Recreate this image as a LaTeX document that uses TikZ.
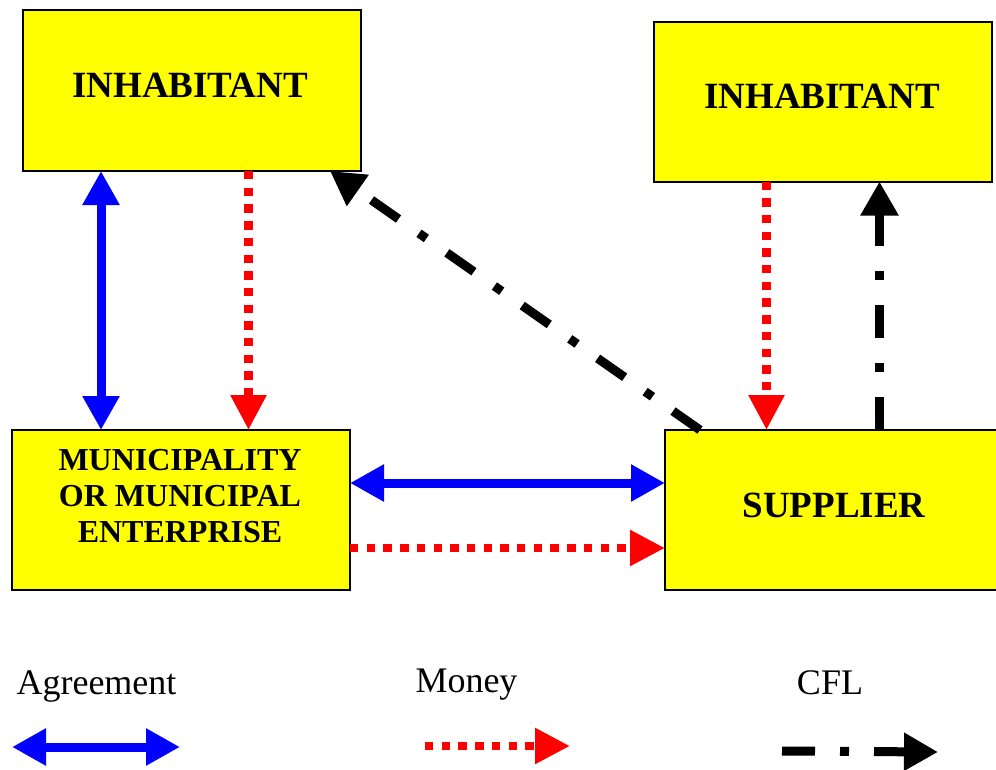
\documentclass[tikz,border=0pt]{standalone}
\usepackage{fontspec}
\setmainfont{Liberation Serif}
\usetikzlibrary{arrows.meta}
\definecolor{boxyellow}{RGB}{255,255,0}
\definecolor{agreeblue}{RGB}{0,0,255}
\definecolor{moneyred}{RGB}{255,0,0}
\begin{document}
\begin{tikzpicture}[x=1pt,y=-1pt,
  box/.style={draw=black, line width=2pt, fill=boxyellow, minimum width=338pt, minimum height=160pt, inner sep=0pt, outer sep=0pt},
  boxtext/.style={font=\bfseries\fontsize{37}{44}\selectfont, inner sep=0pt, anchor=base},
  legtext/.style={font=\fontsize{36}{42}\selectfont, inner sep=0pt, anchor=base},
  agree/.style={draw=agreeblue, line width=9pt, {Triangle[length=34pt,width=35pt]}-{Triangle[length=34pt,width=35pt]}},
  money/.style={draw=moneyred, line width=8.5pt, dash pattern=on 8.4pt off 8.3pt, -{Triangle[length=35pt,width=34pt]}},
  cfl/.style={draw=black, line width=9pt, dash pattern=on 33pt off 25pt on 9pt off 25pt, -{Triangle[length=34pt,width=36pt]}},
]
\useasboundingbox (0,0) rectangle (996,769);
\clip (0,0) rectangle (996,769);

% boxes
\node[box, minimum height=161pt] (inhL) at (192,90.5) {};
\node[box] (inhR) at (823,101.5) {};
\node[box] (muni) at (181,510) {};
\node[box] (supp) at (834,510) {};

% box texts
\node[boxtext] (inhLtext) at (190,97) {INHABITANT};
\node[boxtext] (inhRtext) at (822,108) {INHABITANT};
\node[boxtext] (supptext) at (834,517) {SUPPLIER};
\node[font=\bfseries\fontsize{32}{36}\selectfont, align=center, anchor=north, inner sep=0pt] (munitext) at (180,449) {MUNICIPALITY\\OR MUNICIPAL\\ENTERPRISE};

% helper coordinates
\coordinate (xa) at (101,0);
\coordinate (xb) at (248.5,0);
\coordinate (xc) at (766.5,0);
\coordinate (xd) at (879.5,0);
\coordinate (xe) at (700,0);
\coordinate (xf) at (330,0);
\coordinate (ya) at (0,483);
\coordinate (yb) at (0,548);

% connectors
\draw[agree] (inhL.south -| xa) -- (muni.north -| xa);
\draw[money] (inhL.south -| xb) -- (muni.north -| xb);
\draw[money] (inhR.south -| xc) -- (supp.north -| xc);
\draw[cfl] (supp.north -| xd) -- (inhR.south -| xd);
\draw[cfl] (supp.north -| xe) -- (inhL.south -| xf);
\draw[agree] (muni.east |- ya) -- (supp.west |- ya);
\draw[money] (muni.east |- yb) -- (supp.west |- yb);

% legend
\node[legtext] (lagree) at (96.5,694) {Agreement};
\node[legtext] (lmoney) at (466.5,692) {Money};
\node[legtext] (lcfl) at (830,694) {CFL};
\coordinate (la1) at (12,747);
\coordinate (la2) at (180,747);
\coordinate (lm1) at (425,746);
\coordinate (lm2) at (570,746);
\coordinate (lc1) at (782,751);
\coordinate (lc2) at (938,752);
\draw[agree] (la1) -- (la2);
\draw[money] (lm1) -- (lm2);
\draw[cfl] (lc1) -- (lc2);
\end{tikzpicture}
\end{document}
